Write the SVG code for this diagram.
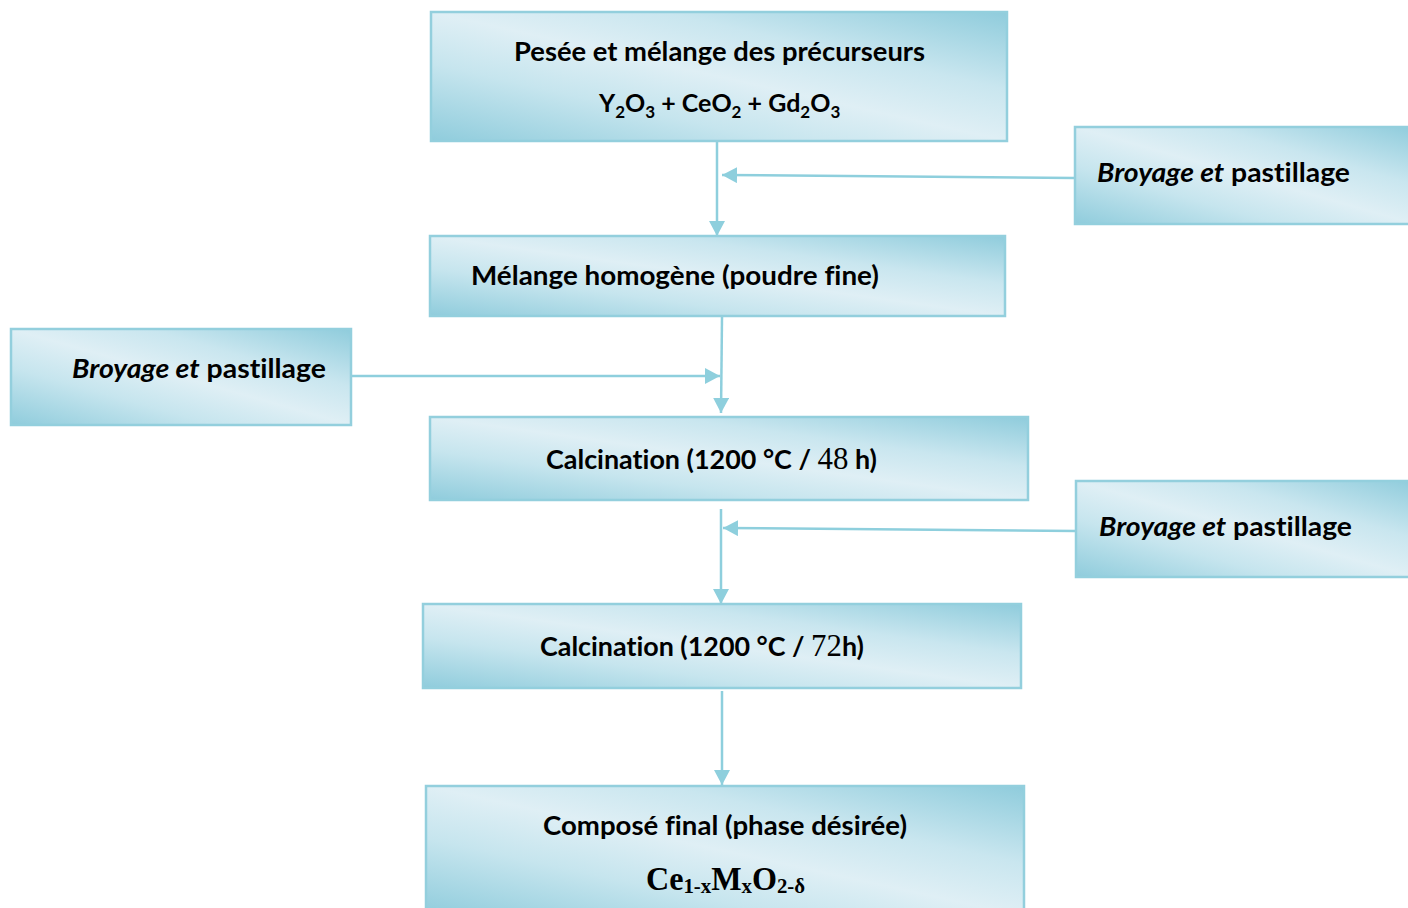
<svg xmlns="http://www.w3.org/2000/svg" width="1408" height="908" viewBox="0 0 1408 908">
  <defs>
    <!-- diagonal light-blue sheen used by every step box -->
    <linearGradient id="sheen" x1="0" y1="1" x2="1" y2="0">
      <stop offset="0" stop-color="#8fccdc"/>
      <stop offset="0.3" stop-color="#c6e5ee"/>
      <stop offset="0.5" stop-color="#dfeff5"/>
      <stop offset="0.7" stop-color="#c9e6ef"/>
      <stop offset="1" stop-color="#8fccdc"/>
    </linearGradient>
    <marker id="head" markerUnits="userSpaceOnUse" markerWidth="16" markerHeight="16" refX="15" refY="8" orient="auto">
      <path d="M0,0 L15,8 L0,16 Z" fill="#8ecfdd"/>
    </marker>
  </defs>
  <style>
    .box { fill: url(#sheen); stroke: #93cfdd; stroke-width: 2.5; }
    .lbl { font-family: Lato, "Open Sans", "Liberation Sans", sans-serif; font-weight: bold; font-size: 27px; fill: #000; font-variant-ligatures: none; }
    .chem { font-size: 25px; }
    .it { font-style: italic; }
    .tm { font-family: "Liberation Serif", "DejaVu Serif", serif; font-weight: normal; font-size: 31px; }
    .sub { font-size: 17px; }
    .conn { fill: none; stroke: #8ecfdd; stroke-width: 2.5; marker-end: url(#head); }
    .formula { font-family: "Liberation Serif", "DejaVu Serif", serif; font-weight: bold; font-size: 34px; fill: #000; }
    .fsub { font-size: 22px; }
  </style>

  <rect width="1408" height="908" fill="#ffffff"/>

  <g id="connectors">
    <line class="conn" x1="717" y1="142" x2="717" y2="236"/>
    <line class="conn" x1="1075" y1="178" x2="722" y2="175"/>
    <line class="conn" x1="722" y1="317" x2="721" y2="413"/>
    <line class="conn" x1="352" y1="376" x2="720" y2="376"/>
    <line class="conn" x1="721" y1="509" x2="721" y2="604"/>
    <line class="conn" x1="1076" y1="531" x2="723" y2="528"/>
    <line class="conn" x1="722" y1="691" x2="722" y2="785"/>
  </g>

  <g id="weighing">
    <rect class="box" x="431" y="12" width="576" height="129"/>
    <text class="lbl" x="514" y="61" textLength="411" lengthAdjust="spacingAndGlyphs">Pesée et mélange des précurseurs</text>
    <text class="lbl chem" x="599" y="112">Y<tspan class="sub" dy="6">2</tspan><tspan dy="-6">O</tspan><tspan class="sub" dy="6">3</tspan><tspan dy="-6"> + CeO</tspan><tspan class="sub" dy="6">2</tspan><tspan dy="-6"> + Gd</tspan><tspan class="sub" dy="6">2</tspan><tspan dy="-6">O</tspan><tspan class="sub" dy="6">3</tspan></text>
  </g>

  <g id="grind-1">
    <rect class="box" x="1075" y="127" width="340" height="97"/>
    <text class="lbl" x="1097" y="182" textLength="253" lengthAdjust="spacingAndGlyphs"><tspan class="it">Broyage et</tspan> pastillage</text>
  </g>

  <g id="mixture">
    <rect class="box" x="430" y="236" width="575" height="80"/>
    <text class="lbl" x="471" y="285" textLength="408" lengthAdjust="spacingAndGlyphs">Mélange homogène (poudre fine)</text>
  </g>

  <g id="grind-2">
    <rect class="box" x="11" y="329" width="340" height="96"/>
    <text class="lbl" x="72" y="378" textLength="254" lengthAdjust="spacingAndGlyphs"><tspan class="it">Broyage et</tspan> pastillage</text>
  </g>

  <g id="calcination-48">
    <rect class="box" x="430" y="417" width="598" height="83"/>
    <text class="lbl" x="546" y="469" textLength="331" lengthAdjust="spacingAndGlyphs">Calcination (1200 °C / <tspan class="tm">48</tspan> h)</text>
  </g>

  <g id="grind-3">
    <rect class="box" x="1076" y="481" width="340" height="96"/>
    <text class="lbl" x="1099" y="536" textLength="253" lengthAdjust="spacingAndGlyphs"><tspan class="it">Broyage et</tspan> pastillage</text>
  </g>

  <g id="calcination-72">
    <rect class="box" x="423" y="604" width="598" height="84"/>
    <text class="lbl" x="540" y="656" textLength="324" lengthAdjust="spacingAndGlyphs">Calcination (1200 °C / <tspan class="tm">72</tspan>h)</text>
  </g>

  <g id="final">
    <rect class="box" x="426" y="786" width="598" height="130"/>
    <text class="lbl" x="543" y="835" textLength="364" lengthAdjust="spacingAndGlyphs">Composé final (phase désirée)</text>
    <text class="formula" x="646" y="890" textLength="159" lengthAdjust="spacingAndGlyphs">Ce<tspan class="fsub" dy="3">1-x</tspan><tspan dy="-3">M</tspan><tspan class="fsub" dy="3">x</tspan><tspan dy="-3">O</tspan><tspan class="fsub" dy="3">2-δ</tspan></text>
  </g>
</svg>
